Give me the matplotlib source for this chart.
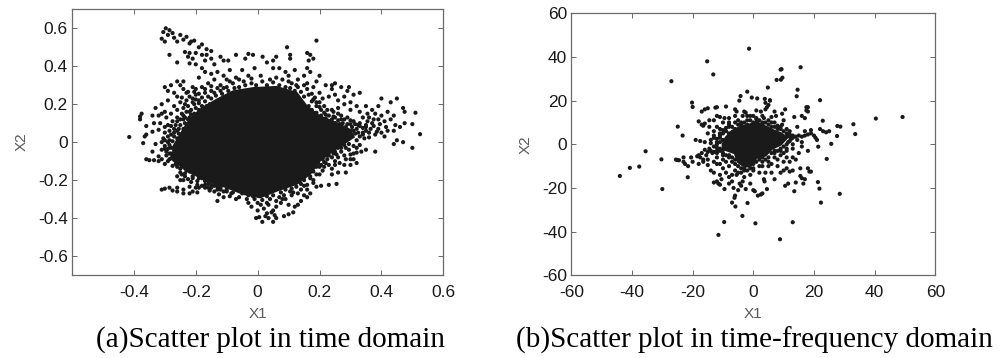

import matplotlib

matplotlib.use("Agg")
import matplotlib.pyplot as plt
import numpy as np

INK = "#1a1a1a"
GREY = "#5a5a5a"
EDGE = "#6a6a6a"

# the saturated middle of each cloud has no readable single points, so only its outline is kept
TIME_CORE_X = [-0.186, -0.132, -0.079, -0.014, 0.061, 0.126, 0.158, 0.201, 0.255, 0.298, 0.309, 0.277, 0.244,
               0.201, 0.169, 0.126, 0.061, 0.008, -0.046, -0.100, -0.165, -0.229, -0.272, -0.272, -0.240, -0.219]
TIME_CORE_Y = [0.169, 0.222, 0.266, 0.283, 0.289, 0.257, 0.187, 0.134, 0.099, 0.063, 0.028, -0.007, -0.042,
               -0.095, -0.165, -0.218, -0.254, -0.289, -0.271, -0.236, -0.201, -0.148, -0.095, -0.025, 0.063, 0.116]
TF_CORE_X = [-9, -7, -4, -1, 1, 4, 7, 9, 11, 9, 6, 4, 1, -1, -3, -5, -6, -8, -10, -10]
TF_CORE_Y = [3, 6, 8, 9, 10, 8, 6, 5, 3, 0, -2, -5, -6, -10, -10, -8, -4, -3, -2, 0]

TIME_TOP_LEFT = [
    (-0.297, 0.60), (-0.305, 0.58), (-0.285, 0.59), (-0.29, 0.565), (-0.31, 0.545), (-0.30, 0.53), (-0.275, 0.575),
    (-0.27, 0.55), (-0.26, 0.53), (-0.25, 0.565), (-0.23, 0.555), (-0.215, 0.53), (-0.24, 0.54), (-0.22, 0.52),
    (-0.205, 0.535), (-0.19, 0.50), (-0.18, 0.515), (-0.165, 0.49), (-0.15, 0.48), (-0.165, 0.46), (-0.18, 0.46),
    (-0.20, 0.47), (-0.22, 0.47), (-0.235, 0.475), (-0.225, 0.45), (-0.21, 0.44), (-0.285, 0.46), (-0.26, 0.42),
    (-0.22, 0.415), (-0.20, 0.41), (-0.17, 0.43), (-0.15, 0.44), (-0.14, 0.41), (-0.12, 0.45), (-0.11, 0.43),
    (-0.095, 0.43), (-0.07, 0.46), (-0.03, 0.465), (-0.015, 0.46), (-0.04, 0.44), (-0.18, 0.39), (-0.19, 0.34),
    (-0.17, 0.37), (-0.15, 0.36), (-0.13, 0.37), (-0.11, 0.35), (-0.09, 0.38), (-0.10, 0.33), (-0.08, 0.31),
    (-0.06, 0.33), (-0.05, 0.38), (-0.03, 0.35), (-0.01, 0.39), (-0.06, 0.29), (-0.12, 0.30), (-0.14, 0.33),
    (-0.16, 0.31), (-0.18, 0.29), (-0.20, 0.28), (-0.24, 0.32), (-0.26, 0.32), (-0.25, 0.30), (-0.28, 0.30),
    (-0.30, 0.29), (-0.29, 0.27), (-0.27, 0.26), (-0.26, 0.24), (-0.24, 0.28), (-0.23, 0.26), (-0.21, 0.29),
    (-0.22, 0.24), (-0.20, 0.25), (-0.19, 0.22), (-0.21, 0.21), (-0.23, 0.22), (-0.25, 0.21), (-0.27, 0.19),
    (-0.29, 0.22), (-0.31, 0.20), (-0.33, 0.18), (-0.30, 0.16), (-0.28, 0.15), (-0.26, 0.17), (-0.24, 0.18),
    (-0.22, 0.16), (-0.20, 0.18), (-0.18, 0.19), (-0.16, 0.24), (-0.14, 0.26), (-0.12, 0.27), (-0.10, 0.29),
    (-0.375, 0.15), (-0.38, 0.135), (-0.38, 0.12), (-0.34, 0.14), (-0.32, 0.14), (-0.31, 0.15), (-0.295, 0.13),
    (-0.36, 0.085), (-0.335, 0.10), (-0.315, 0.10), (-0.30, 0.08), (-0.28, 0.085), (-0.26, 0.11), (-0.24, 0.12),
    (-0.26, 0.06), (-0.24, 0.07), (-0.28, 0.04), (-0.30, 0.05), (-0.32, 0.065), (-0.34, 0.055), (-0.36, 0.04),
]
TIME_LEFT = [
    (-0.415, 0.027), (-0.37, -0.005), (-0.365, 0.03), (-0.34, -0.05), (-0.33, -0.01), (-0.32, -0.075), (-0.31, 0.0),
    (-0.30, -0.02), (-0.31, -0.04), (-0.295, -0.05), (-0.285, 0.01), (-0.28, -0.03), (-0.27, -0.06), (-0.26, 0.02),
    (-0.36, -0.09), (-0.35, -0.095), (-0.335, -0.095), (-0.32, -0.10), (-0.31, -0.09), (-0.30, -0.115), (-0.285, -0.09),
    (-0.275, -0.125), (-0.26, -0.10), (-0.25, -0.14), (-0.24, -0.11), (-0.235, -0.165), (-0.25, -0.20), (-0.26, -0.18),
    (-0.24, -0.20), (-0.225, -0.195), (-0.21, -0.18), (-0.195, -0.205), (-0.18, -0.19), (-0.22, -0.235), (-0.20, -0.24),
    (-0.18, -0.23), (-0.16, -0.22), (-0.14, -0.23), (-0.12, -0.24), (-0.31, -0.25), (-0.30, -0.245), (-0.285, -0.24),
    (-0.275, -0.255), (-0.26, -0.26), (-0.24, -0.27), (-0.22, -0.27), (-0.21, -0.26), (-0.195, -0.265), (-0.19, -0.24),
    (-0.26, -0.24), (-0.24, -0.25), (-0.13, -0.31), (-0.14, -0.26), (-0.125, -0.275), (-0.11, -0.29), (-0.10, -0.26),
]
TIME_BOTTOM = [
    (-0.09, -0.285), (-0.07, -0.30), (-0.05, -0.27), (-0.03, -0.32), (-0.02, -0.34), (-0.035, -0.30), (-0.01, -0.30),
    (0.01, -0.33), (0.02, -0.35), (0.035, -0.33), (0.05, -0.36), (0.06, -0.34), (0.075, -0.32), (0.09, -0.30),
    (0.11, -0.28), (0.13, -0.27), (0.14, -0.31), (0.13, -0.33), (0.12, -0.34), (0.15, -0.28), (0.16, -0.25),
    (0.115, -0.37), (0.10, -0.38), (0.085, -0.39), (0.055, -0.385), (0.05, -0.42), (0.015, -0.42), (0.005, -0.395),
    (-0.005, -0.40), (0.025, -0.39), (0.035, -0.40), (0.03, -0.375), (0.045, -0.37), (0.06, -0.40), (0.0, -0.36),
    (0.08, -0.30), (0.10, -0.33), (0.105, -0.26), (0.07, -0.29), (0.04, -0.30), (0.17, -0.27), (0.16, -0.29),
]
TIME_TOP_RIGHT = [
    (0.095, 0.50), (0.19, 0.535), (0.016, 0.45), (0.06, 0.45), (0.105, 0.46), (0.105, 0.44), (0.16, 0.47),
    (0.17, 0.46), (0.18, 0.44), (0.165, 0.43), (0.05, 0.43), (0.03, 0.42), (0.16, 0.39), (0.17, 0.37),
    (0.20, 0.35), (0.19, 0.32), (0.05, 0.39), (0.07, 0.39), (0.09, 0.37), (0.10, 0.35), (0.12, 0.38), (0.13, 0.33),
    (0.15, 0.35), (0.11, 0.31), (0.13, 0.29), (0.16, 0.31), (0.18, 0.29), (0.20, 0.26), (0.22, 0.30), (0.24, 0.28),
    (0.27, 0.29), (0.29, 0.27), (0.25, 0.31), (0.24, 0.30), (0.28, 0.24), (0.31, 0.25), (0.33, 0.26), (0.295, 0.29),
    (0.25, 0.25), (0.23, 0.24), (0.21, 0.23), (0.19, 0.21), (0.26, 0.22), (0.28, 0.20), (0.30, 0.21), (0.32, 0.19),
    (0.24, 0.17), (0.26, 0.18), (0.30, 0.17), (0.33, 0.16), (0.35, 0.19), (0.37, 0.17), (0.39, 0.19), (0.355, 0.15),
    (0.34, 0.13), (0.36, 0.13), (0.38, 0.15), (0.40, 0.14), (0.42, 0.16), (0.44, 0.14), (0.43, 0.12), (0.41, 0.11),
    (0.39, 0.12), (0.37, 0.10), (0.35, 0.09), (0.33, 0.10), (0.31, 0.11), (0.29, 0.13), (0.27, 0.14), (0.25, 0.13),
    (0.45, 0.23), (0.40, 0.23), (0.43, 0.21), (0.47, 0.18), (0.475, 0.16), (0.51, 0.155), (0.50, 0.095), (0.475, 0.10),
    (0.46, 0.08), (0.445, 0.09), (0.525, 0.042), (0.50, -0.03), (0.47, 0.0), (0.44, -0.01), (0.45, 0.01), (0.44, 0.06),
    (0.42, 0.06), (0.40, 0.05), (0.38, 0.04), (0.36, 0.05), (0.34, 0.04), (0.41, 0.03), (0.39, 0.07), (0.36, 0.025),
]
TIME_BOTTOM_RIGHT = [
    (0.38, -0.05), (0.35, -0.04), (0.335, -0.05), (0.32, -0.03), (0.31, -0.06), (0.33, -0.015), (0.30, -0.09),
    (0.32, -0.11), (0.31, -0.09), (0.28, -0.12), (0.285, -0.16), (0.30, -0.12), (0.25, -0.10), (0.24, -0.14),
    (0.26, -0.16), (0.24, -0.17), (0.22, -0.11), (0.21, -0.15), (0.20, -0.13), (0.19, -0.17), (0.18, -0.20),
    (0.19, -0.235), (0.205, -0.23), (0.23, -0.225), (0.255, -0.22), (0.17, -0.19), (0.15, -0.23), (0.26, -0.08),
    (0.28, -0.07), (0.295, -0.04), (0.27, -0.03), (0.25, -0.05), (0.23, -0.07), (0.21, -0.08),
]
# dense band hugging the outline of the core
TIME_BAND = [
    (-0.24, 0.14), (-0.225, 0.19), (-0.205, 0.20), (-0.19, 0.205), (-0.17, 0.215), (-0.155, 0.20), (-0.15, 0.23),
    (-0.135, 0.245), (-0.115, 0.255), (-0.095, 0.27), (-0.075, 0.285), (-0.055, 0.27), (-0.04, 0.30), (-0.02, 0.31),
    (-0.005, 0.30), (0.015, 0.32), (0.03, 0.30), (0.05, 0.315), (0.07, 0.30), (0.09, 0.29), (0.105, 0.285), (0.12, 0.27),
    (0.14, 0.265), (0.15, 0.24), (0.165, 0.25), (0.175, 0.215), (0.19, 0.19), (0.205, 0.17), (0.215, 0.155),
    (0.23, 0.14), (0.24, 0.12), (0.26, 0.115), (0.275, 0.10), (0.29, 0.095), (0.305, 0.08), (0.32, 0.07), (0.325, 0.05),
    (0.33, 0.03), (0.32, 0.01), (0.31, -0.02), (0.295, -0.01), (0.285, -0.03), (0.27, -0.05), (0.255, -0.065),
    (0.24, -0.08), (0.225, -0.09), (0.215, -0.105), (0.205, -0.12), (0.19, -0.13), (0.18, -0.155), (0.17, -0.18),
    (0.15, -0.20), (0.14, -0.22), (0.125, -0.235), (0.11, -0.245), (0.09, -0.25), (0.075, -0.265), (0.05, -0.28),
    (0.03, -0.285), (0.015, -0.305), (-0.015, -0.285), (-0.03, -0.28), (-0.06, -0.29), (-0.08, -0.265), (-0.10, -0.25),
    (-0.115, -0.225), (-0.135, -0.215), (-0.15, -0.24), (-0.17, -0.205), (-0.19, -0.175), (-0.205, -0.16), (-0.22, -0.155),
    (-0.235, -0.135), (-0.25, -0.115), (-0.265, -0.085), (-0.275, -0.07), (-0.285, -0.06), (-0.285, -0.015), (-0.275, 0.005),
    (-0.27, 0.03), (-0.255, 0.045), (-0.25, 0.09), (-0.235, 0.10), (-0.22, 0.13), (-0.205, 0.15), (-0.19, 0.17), (-0.165, 0.19),
    (0.34, 0.075), (0.35, 0.06), (0.345, 0.02), (0.33, 0.085), (0.315, 0.095), (0.30, 0.115), (0.28, 0.12), (0.26, 0.15),
    (0.245, 0.16), (0.225, 0.17), (0.215, 0.19), (0.20, 0.21), (0.185, 0.235), (0.175, 0.255), (0.16, 0.28), (0.15, 0.30),
    (0.125, 0.30), (0.10, 0.32), (0.08, 0.33), (0.06, 0.34), (0.04, 0.33), (0.01, 0.35), (-0.02, 0.335), (-0.045, 0.32),
    (-0.07, 0.34), (-0.09, 0.32), (-0.11, 0.285), (-0.13, 0.285), (-0.15, 0.27), (-0.17, 0.26), (-0.18, 0.235), (-0.20, 0.225),
    (-0.215, 0.17), (-0.23, 0.16), (-0.245, 0.15), (-0.26, 0.13), (-0.275, 0.11), (-0.29, 0.09), (-0.27, 0.07), (-0.29, 0.03),
    (-0.305, 0.02), (-0.30, -0.035), (-0.295, -0.07), (-0.28, -0.085), (-0.265, -0.115), (-0.25, -0.16), (-0.235, -0.18),
    (-0.215, -0.21), (-0.195, -0.225), (-0.17, -0.24), (-0.155, -0.255), (-0.13, -0.25), (-0.11, -0.26), (-0.085, -0.27),
    (0.0, -0.32), (0.03, -0.32), (0.06, -0.31), (0.085, -0.28), (0.115, -0.265), (0.14, -0.25), (0.16, -0.225), (0.18, -0.215),
    (0.20, -0.17), (0.215, -0.13), (0.23, -0.12), (0.25, -0.12), (0.265, -0.11), (0.285, -0.09), (0.30, -0.065), (0.32, -0.055),
]
# gaps in the band that read as nearly solid in the picture
TIME_FILL = [
    (0.165, 0.19), (0.175, 0.17), (0.19, 0.155), (0.205, 0.14), (0.22, 0.125), (0.235, 0.105), (0.25, 0.10), (0.265, 0.095),
    (0.285, 0.08), (0.30, 0.06), (0.315, 0.045), (0.31, 0.06), (0.295, 0.02), (0.28, -0.015), (0.26, -0.03), (0.245, -0.06),
    (0.225, -0.07), (0.21, -0.09), (0.195, -0.11), (0.18, -0.13), (0.17, -0.145), (0.155, -0.17), (0.15, -0.185), (0.135, -0.205),
    (0.18, 0.225), (0.2, 0.185), (0.22, 0.145), (0.245, 0.135), (0.27, 0.12), (0.30, 0.095), (0.325, 0.09), (0.34, 0.05),
    (0.35, 0.08), (0.365, 0.07), (0.375, 0.085), (0.385, 0.055), (0.355, 0.11), (0.375, 0.12), (0.395, 0.095), (0.415, 0.08),
    (-0.225, 0.12), (-0.215, 0.145), (-0.235, 0.13), (-0.25, 0.12), (-0.265, 0.09), (-0.255, 0.07), (-0.27, 0.05), (-0.285, 0.06),
    (-0.21, 0.23), (-0.235, 0.20), (-0.245, 0.235), (-0.225, 0.265), (-0.205, 0.265), (-0.19, 0.255), (-0.17, 0.28), (-0.15, 0.295),
    (-0.29, -0.035), (-0.29, 0.0), (-0.30, 0.01), (-0.29, -0.10), (-0.28, -0.06), (-0.26, -0.13), (-0.245, -0.17), (-0.23, -0.15),
    (-0.21, -0.19), (-0.19, -0.19), (-0.17, -0.225), (-0.15, -0.225), (-0.16, -0.24), (-0.13, -0.235), (-0.12, -0.25),
]

TF_OUTER = [
    (-1.4, 43.8), (-15.2, 38), (-13.2, 32), (-27, 28.9), (15.6, 35.3), (9.3, 34.4), (9, 34.2), (9.6, 30.5), (9.1, 29.6),
    (7.7, 29.5), (4.8, 26), (-2, 24.1), (14.6, 25), (14.3, 22), (22, 20.2), (-4.2, 22.1), (-4.6, 20), (-20.2, 19.1),
    (-20, 17.1), (-0.5, 21.4), (1.3, 21), (3.8, 20.8), (5.5, 20.2), (49.2, 12.5), (40.4, 11.8), (33, 9.2), (33.6, 4.7),
    (27.7, 8.4), (28.7, 8.1), (22.9, 10.8), (27.6, 3.8), (25.7, 0.2), (24.2, -6.7), (28.5, -22.7), (22.3, -26.7),
    (21.8, -20.3), (21.3, -17.3), (21.4, -1.1), (-44, -14.5), (-40.7, -10.8), (-37.6, -10.2), (-35.5, -3.2),
    (-30.3, -6.9), (-30, -20.5), (-24.9, 8.1), (-23.3, 4), (-21.6, -15.1), (-11.5, -41.5), (8.8, -43.5), (-3.6, -32.8),
    (0.7, -36.2), (13, -35.7), (-9.6, -35.6), (-5.9, -28.5), (-7, -26.7), (-1.9, -26.9),
]
TF_UPPER = [
    (-17, 15), (-16, 16), (-15, 16.5), (-12.5, 16.8), (-12, 17), (-9, 17.3), (-6, 16), (-5.5, 15), (-3, 15), (-2.5, 14.5),
    (1, 15.5), (2.5, 15), (4, 19), (5, 18), (5.5, 20), (4.5, 17), (4, 16), (7, 15), (10.5, 16), (17.5, 17), (18, 17),
    (17.5, 15.5), (18, 15), (16, 13), (13.5, 12.5), (17, 12), (9.5, 14), (7.5, 13), (6, 12.5), (3.5, 12), (1, 12), (-1, 13),
    (-3.5, 13), (-6, 13), (-8, 12), (-9.5, 12), (-11, 12.5), (-12, 13), (-13, 11), (-14.5, 11), (-16, 9.5), (-18, 10.5),
    (-17, 9), (-16.5, 8.5), (-14.5, 8), (-12, 8), (-10, 10), (-8, 9), (-6, 10), (-4, 10), (-2, 11), (1, 10), (3, 10), (5, 11),
    (7, 10), (9.5, 9), (11, 7), (14.5, 8), (10, 11), (8, 8.5), (22, 7), (19, 6.5), (23, 6), (24, 5.5), (25, 6), (17, 6),
    (-15, 5), (-13, 6), (-11, 5), (-10, 6.5), (-9, 7.5), (-19, 2), (-17.5, 1.5), (-16, 1), (-14, 0.5), (-12, 1), (-11, 3),
]
TF_STREAKS = [
    (11, 3.5), (12, 3.5), (13, 4), (14, 3.5), (15, 4), (16, 3.5), (17, 4), (18, 4.5), (19, 5), (20, 4), (20.5, 3), (21, 2),
    (12.5, 2.5), (14.5, 2), (16, 1), (11.5, 1), (-14, -3), (-13.5, -4), (-13, -3.5), (-12, -3), (-11, -3), (-10, -2.5),
    (-15, -3.5), (-16, -2.5), (-18, -5), (-17.5, -6), (-17, -4), (-16.5, -7), (-15.5, -5), (-14.5, -2), (-13, -1), (-12, -1.5),
]
TF_LOWER = [
    (-25.5, -7), (-25, -7.2), (-24.5, -7.3), (-23, -6), (-23, -8), (-22.5, -9), (-21.5, -10), (-20.5, -6), (-20, -8),
    (-18.5, -5.5), (-18, -9), (-16.5, -8), (-15, -9.5), (-15, -7), (-13, -8), (-12, -9), (-14, -12), (-13, -13),
    (-12, -17), (-11.5, -18), (-11, -18.5), (-10.5, -16), (-9.5, -20.5), (-8, -18), (-7, -17), (-6.5, -20), (-6, -23.5),
    (-6.2, -24.5), (-5, -21), (-4.5, -18), (-4, -19), (-3.5, -17), (-3, -15), (-2.5, -20.5), (-1, -18), (0, -21), (0.5, -21.5),
    (1.5, -23.5), (2.5, -23), (3, -22.5), (4.5, -20.5), (3.5, -16), (3.7, -17), (7, -16), (10.5, -19), (11.5, -18), (13.5, -21.5),
    (14, -17.5), (16, -15.5), (17, -16), (16.5, -18), (15.5, -14.5), (18, -11), (18.5, -12.5), (19, -12.5), (15.5, -11),
    (13, -12), (12, -12.5), (11, -11), (10, -12), (9, -13), (8, -10), (6, -13), (4, -13), (2, -13), (0, -12), (-1, -14),
    (-3, -12), (-4, -13), (-5, -13), (-5.5, -14), (-6, -12), (-7, -14), (-8, -15), (-9, -13), (-10, -11), (-11, -9),
    (-9, -8), (-8, -10), (-7, -8), (-12, -6), (-10, -5), (14, -7), (13, -6), (12, -8), (11, -6), (10, -8), (9, -5), (8, -7),
    (6, -9), (5, -10), (7, -4), (9, -3), (11, -3), (13, -2), (15, -4), (16, -1), (18, -3), (3, -8), (2, -10), (-11, -14), (-13, -17.5),
]
TF_BAND = [
    (-11, 4), (-10, 5), (-9, 6), (-8, 5), (-7, 8), (-6, 7), (-5, 9), (-4, 9), (-3, 10), (-2, 9), (-1, 11), (0, 10), (1, 11.5),
    (2, 11), (3, 9), (4, 10), (5, 9), (6, 8), (7, 8), (8, 7), (9, 7), (10, 6), (11, 5), (12, 4.5), (12, 1.5), (11, 0), (10, -1),
    (9, -2), (8, -3), (7, -3), (6, -4), (5, -6), (4, -7), (3, -6), (2, -7), (1, -8), (0, -9), (-1, -11), (-2, -12), (-3, -11),
    (-4, -11), (-5, -10), (-6, -9), (-7, -6), (-8, -6), (-9, -5), (-10, -4), (-11, -2), (-12, 0), (-11, 1), (-12, 2.5), (-10, 2),
    (-13, 3), (-8, 8), (-5, 11), (0, 13), (3, 13), (6, 10), (9, 8), (12, 6), (13, 3), (13, 0), (11, -2), (10, -4), (7, -6), (5, -8),
    (3, -10), (0, -11), (-3, -9), (-6, -7), (-8, -5), (-10, -7), (-12, -4), (-14, 2), (-13, 4), (-11, 7), (-8, 10), (-2, 13),
]

X1_TICKS_TIME = [-0.4, -0.2, 0, 0.2, 0.4, 0.6]
X1_LABELS_TIME = ["-0.4", "-0.2", "0", "0.2", "0.4", "0.6"]
X2_TICKS_TIME = [-0.6, -0.4, -0.2, 0, 0.2, 0.4, 0.6]
X2_LABELS_TIME = ["-0.6", "-0.4", "-0.2", "0", "0.2", "0.4", "0.6"]
TF_TICKS = [-60, -40, -20, 0, 20, 40, 60]
TF_LABELS = ["-60", "-40", "-20", "0", "20", "40", "60"]


def draw(ax, groups, core_x, core_y):
    ax.fill(core_x, core_y, color=INK, lw=2, zorder=2)
    points = np.array([pair for group in groups for pair in group], dtype=float)
    ax.scatter(points[:, 0], points[:, 1], s=9, c=INK, edgecolors="none", zorder=3)
    ax.tick_params(axis="both", direction="in", length=3.5, width=0.7, color=EDGE, top=True, right=True,
                   labelsize=12.5, labelcolor="#1a1a1a")
    ax.tick_params(axis="x", pad=7)
    ax.tick_params(axis="y", pad=3)
    for spine in ax.spines.values():
        spine.set_color(EDGE)
        spine.set_linewidth(0.9)
    ax.set_xlabel("X1", fontsize=11, color=GREY, labelpad=5)
    ax.set_ylabel("X2", fontsize=11, color=GREY, labelpad=7)


def main():
    plt.rcParams["font.family"] = ["Liberation Sans", "DejaVu Sans"]
    fig = plt.figure(figsize=(9.98, 3.58), dpi=100)

    left = fig.add_axes([72 / 998, 1 - 275 / 358, 371.3 / 998, 265.7 / 358])
    draw(left, [TIME_TOP_LEFT, TIME_LEFT, TIME_BOTTOM, TIME_TOP_RIGHT, TIME_BOTTOM_RIGHT, TIME_BAND, TIME_FILL],
         TIME_CORE_X, TIME_CORE_Y)
    left.set_xlim(-0.6, 0.6)
    left.set_ylim(-0.7, 0.7)
    left.set_xticks(X1_TICKS_TIME, X1_LABELS_TIME)
    left.set_yticks(X2_TICKS_TIME, X2_LABELS_TIME)

    right = fig.add_axes([571.3 / 998, 1 - 275.3 / 358, 364 / 998, 262 / 358])
    draw(right, [TF_OUTER, TF_UPPER, TF_STREAKS, TF_LOWER, TF_BAND], TF_CORE_X, TF_CORE_Y)
    right.set_xlim(-60, 60)
    right.set_ylim(-60, 60)
    right.set_xticks(TF_TICKS, TF_LABELS)
    right.set_yticks(TF_TICKS, TF_LABELS)

    fig.text(271 / 998, 1 - 340 / 358, "(a)Scatter plot in time domain", ha="center", va="center",
             family="Liberation Serif", fontsize=21, color="black")
    fig.text(754 / 998, 1 - 340 / 358, "(b)Scatter plot in time-frequency domain", ha="center", va="center",
             family="Liberation Serif", fontsize=21, color="black")
    fig.savefig("out.png", dpi=100)


if __name__ == "__main__":
    main()
